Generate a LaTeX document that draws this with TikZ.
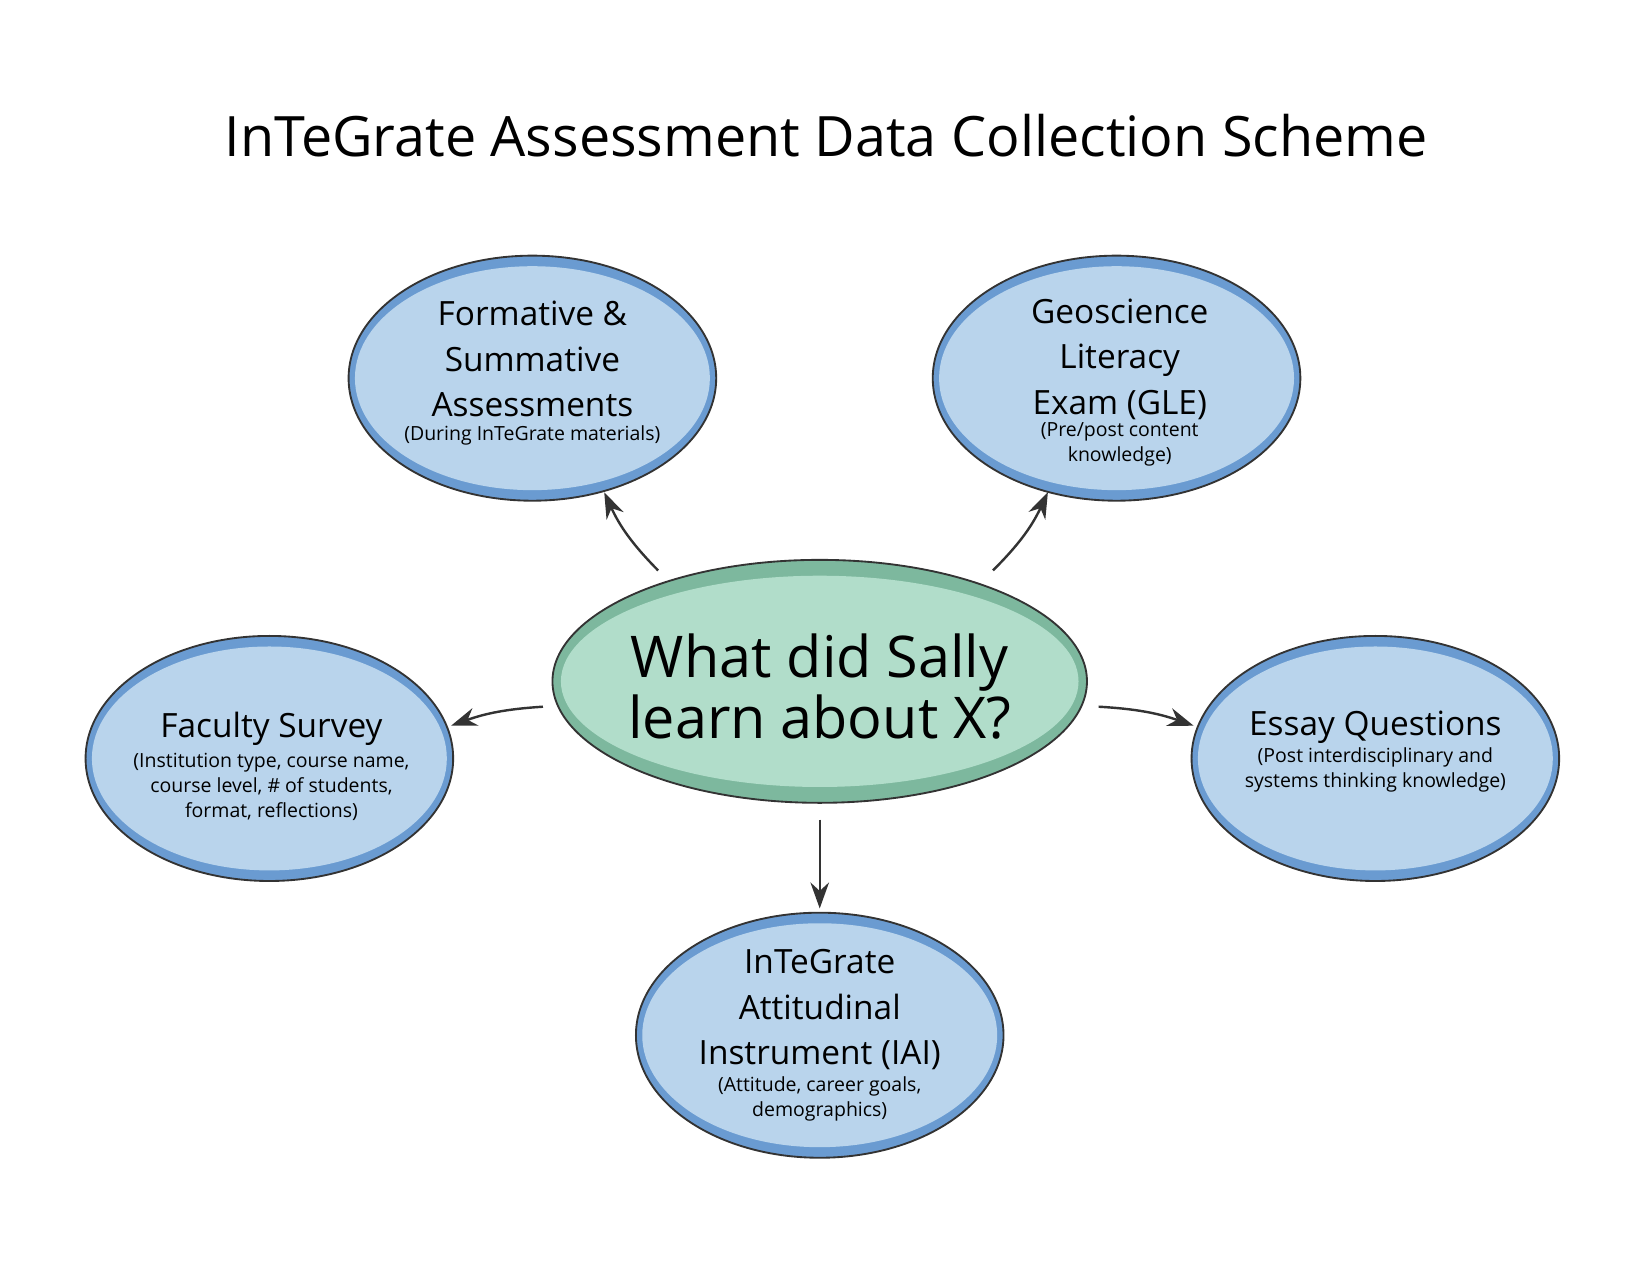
\documentclass[tikz,border=0pt]{standalone}
\usepackage{fontspec}
\setmainfont{Open Sans}
\usetikzlibrary{arrows.meta}
\definecolor{band}{HTML}{6A9BD1}
\definecolor{inner}{HTML}{B9D4EC}
\definecolor{gband}{HTML}{7DB89E}
\definecolor{ginner}{HTML}{B1DDCA}
\definecolor{edge}{HTML}{333333}
\tikzset{
  conn/.style={draw=edge, line width=1.3pt, -{Stealth[length=14pt,width=10pt]}},
  big/.style={font=\fontsize{18}{24.5}\selectfont, align=center, inner sep=0pt},
  small/.style={font=\fontsize{10.5}{13.5}\selectfont, align=center, inner sep=0pt},
}
\newcommand{\blob}[5]{% x y rx ry name
  \fill[band] (#1,#2) ellipse [x radius=#3, y radius=#4];
  \fill[inner] (#1,#2) ellipse [x radius=#3-6, y radius=#4-10];
  \draw[edge, line width=1pt] (#1,#2) ellipse [x radius=#3, y radius=#4];
  \coordinate (#5) at (#1,#2);
}
\begin{document}
\begin{tikzpicture}[x=0.02cm,y=-0.02cm]
\useasboundingbox (0,0) rectangle (1562,1207);
\node[font=\fontsize{30}{36}\selectfont] (title) at (782,128) {InTeGrate Assessment Data Collection Scheme};
\blob{504}{358}{174}{116}{fsa}
\blob{1057}{358}{174}{116}{gle}
\blob{255}{718}{174}{116}{fac}
\blob{1302}{718}{174}{116}{ess}
\blob{776}{980}{174}{116}{iai}
\fill[gband] (776,645) ellipse [x radius=253, y radius=115];
\fill[ginner] (776,645) ellipse [x radius=245, y radius=100];
\draw[edge, line width=1pt] (776,645) ellipse [x radius=253, y radius=115];
\node[font=\fontsize{31}{33}\selectfont, align=center, inner sep=0pt] (ctr) at (776,650) {What did Sally\\learn about X?};

\node[big] (t1) at (504,340) {Formative \&\\Summative\\Assessments};
\node[small] (s1) at (504,412) {(During InTeGrate materials)};
\node[big] (t2) at (1060,340) {Geoscience\\Literacy\\Exam (GLE)};
\node[small] (s2) at (1060,421) {(Pre/post content\\knowledge)};
\node[big] (t3) at (257,690) {Faculty Survey};
\node[small] (s3) at (257,745) {(Institution type, course name,\\course level, \# of students,\\format, reflections)};
\node[big] (t4) at (1302,688) {Essay Questions};
\node[small] (s4) at (1302,729) {(Post interdisciplinary and\\systems thinking knowledge)};
\node[big] (t5) at (776,956) {InTeGrate\\Attitudinal\\Instrument (IAI)};
\node[small] (s5) at (776,1040) {(Attitude, career goals,\\demographics)};

\coordinate (a1s) at (623,540); \coordinate (a1e) at (572,466);
\coordinate (a2s) at (940,540); \coordinate (a2e) at (992,466);
\coordinate (a3s) at (514,669); \coordinate (a3e) at (427,687);
\coordinate (a4s) at (1040,669); \coordinate (a4e) at (1130,687);
\coordinate (a5s) at (776,776); \coordinate (a5e) at (776,860);
\draw[conn] (a1s) to[bend left=10] (a1e);
\draw[conn] (a2s) to[bend right=10] (a2e);
\draw[conn] (a3s) to[bend right=8] (a3e);
\draw[conn] (a4s) to[bend left=8] (a4e);
\draw[conn] (a5s) -- (a5e);
\end{tikzpicture}
\end{document}
